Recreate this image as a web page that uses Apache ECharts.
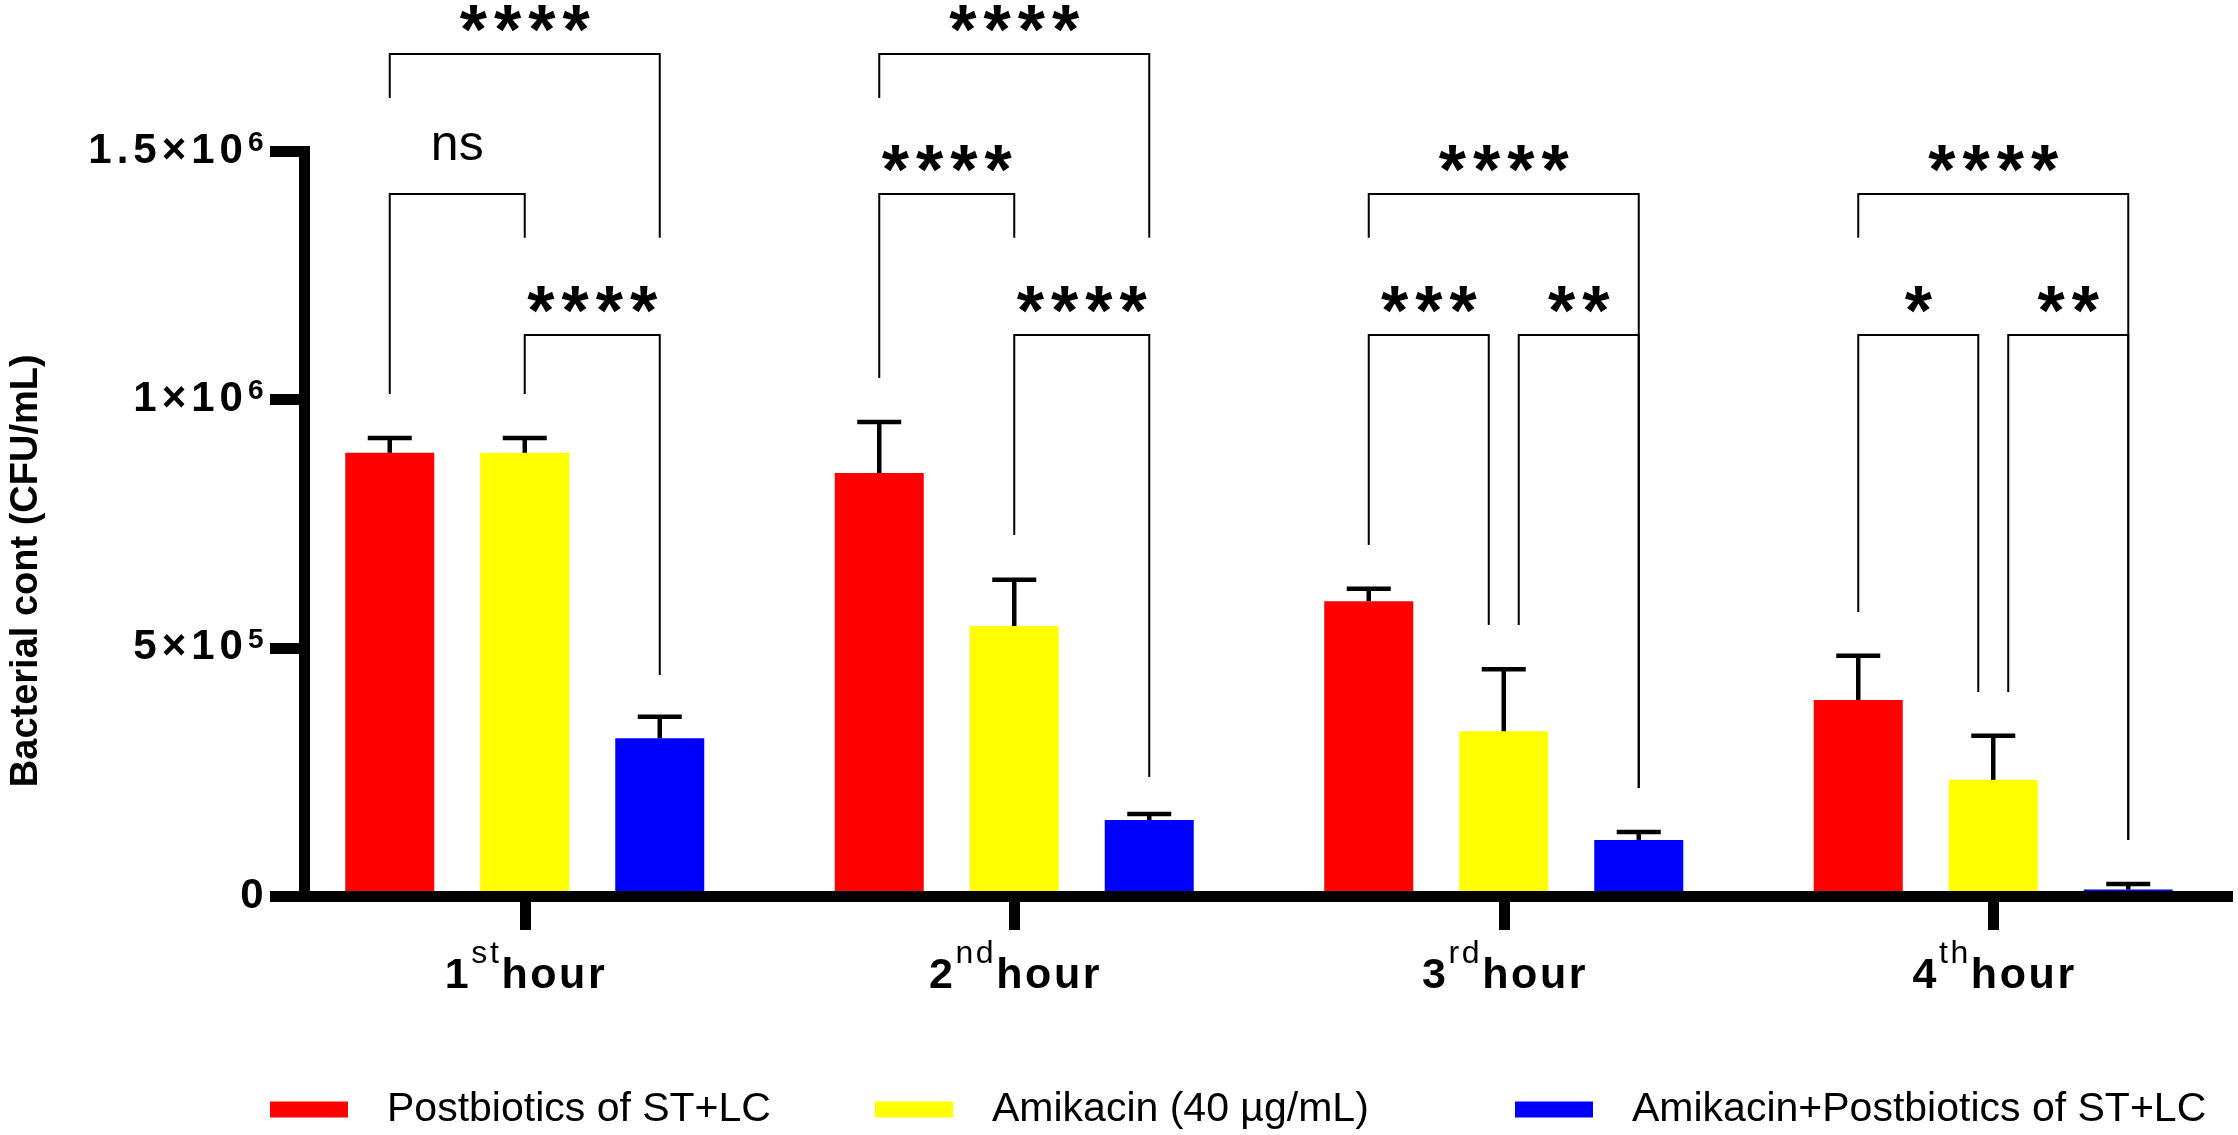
<!DOCTYPE html>
<html><head><meta charset="utf-8">
<script src="https://cdn.jsdelivr.net/npm/echarts@6/dist/echarts.min.js"></script>
<style>html,body{margin:0;padding:0;background:#fff}#c{width:2238px;height:1135px}</style>
</head><body><div id="c"></div>
<script>
// ---------- data ----------
const categories = ['1st hour', '2nd hour', '3rd hour', '4th hour'];
const seriesNames = ['Postbiotics of ST+LC', 'Amikacin (40 µg/mL)', 'Amikacin+Postbiotics of ST+LC'];
const seriesColors = ['#ff0000', '#ffff00', '#0000ff'];
const postbiotics    = [893000, 852000, 594000, 395000];
const amikacin       = [893000, 544000, 332000, 234000];
const combination    = [318000, 153000, 113000, 13000];
const postbioticsErr = [30000, 103000, 25000, 89000];
const amikacinErr    = [30000, 93000, 125000, 89000];
const combinationErr = [43000, 12000, 16000, 11000];

const yTicks        = [0, 500000, 1000000, 1500000];
const yTickMantissa = ['0', '5', '1', '1.5'];
const yTickExponent = ['', '5', '6', '6'];

// significance brackets (group, from bar, to bar, bracket level, left leg end, right leg end, label)
const bracketGroup    = [0, 0, 0, 1, 1, 1, 2, 2, 2, 3, 3, 3];
const bracketFrom     = [0, 0, 1, 0, 0, 1, 0, 0, 1.111, 0, 0, 1.111];
const bracketTo       = [2, 1, 2, 2, 1, 2, 2, 0.889, 2, 2, 0.889, 2];
const bracketLevel    = [1696500, 1414500, 1130400, 1696500, 1414500, 1130400, 1414500, 1130400, 1130400, 1414500, 1130400, 1130400];
const bracketLeftEnd  = [1608000, 1011500, 1011500, 1608000, 1043700, 727400, 1326000, 707200, 546000, 1326000, 572200, 411000];
const bracketRightEnd = [1326000, 1326000, 445300, 1326000, 1326000, 239800, 217600, 546000, 217600, 112800, 411000, 112800];
const bracketLabels   = ['****', 'ns', '****', '****', '****', '****', '****', '***', '**', '****', '*', '**'];

// ---------- styling constants ----------
const FONT = '"Liberation Sans", Arial, sans-serif';
const BAR_W = 89, BAR_GAP = 46;
const SLOT = BAR_W + BAR_GAP;
const GRID_TOP = 151.5, GRID_BOTTOM = 239;

// spread characters into individual rich tokens (letter tracking)
function track(str, tok) {
  return str.split('').map(ch => '{' + tok + '|' + ch + '}').join('');
}

const seriesValues = [postbiotics, amikacin, combination];
const seriesErrs = [postbioticsErr, amikacinErr, combinationErr];

const errData = [];
seriesValues.forEach((vals, s) => vals.forEach((v, i) => errData.push([i, s, v, seriesErrs[s][i]])));
const bracketData = bracketGroup.map((g, k) => [g, bracketFrom[k], bracketTo[k], bracketLevel[k], bracketLeftEnd[k], bracketRightEnd[k], k]);

const chart = echarts.init(document.getElementById('c'), null, { renderer: 'canvas' });

const option = {
  animation: false,
  backgroundColor: '#ffffff',
  grid: [
    { left: 280, width: 1969, top: GRID_TOP, bottom: GRID_BOTTOM },
    { left: 303, right: 10.5, top: GRID_TOP, bottom: GRID_BOTTOM }
  ],
  xAxis: [
    {
      type: 'category', gridIndex: 0, data: categories,
      axisLine: { show: false },
      axisTick: { show: true, alignWithLabel: true, length: 34, lineStyle: { color: '#000', width: 11 } },
      axisLabel: {
        margin: 42,
        formatter: function (v) {
          const m = v.match(/^(\d)(st|nd|rd|th)\s*(hour)$/);
          return track(m[1], 'n') + track(m[2], 's') + track(m[3], 'n');
        },
        rich: {
          n: { fontSize: 43, fontWeight: 'bold', fontFamily: FONT, color: '#000', lineHeight: 60, verticalAlign: 'bottom', padding: [0, 1.3, 0, 1.3] },
          s: { fontSize: 32, fontWeight: 'normal', fontFamily: FONT, color: '#000', lineHeight: 32, verticalAlign: 'top', padding: [0, 1.3, 0, 1.3] }
        }
      },
      splitLine: { show: false }
    },
    {
      type: 'value', gridIndex: 1, min: 0, max: 1, z: 10,
      axisLine: { show: true, onZero: false, lineStyle: { color: '#000', width: 11, cap: 'square' } },
      axisTick: { show: false }, axisLabel: { show: false }, splitLine: { show: false }
    }
  ],
  yAxis: [
    { type: 'value', gridIndex: 0, min: 0, max: 1500000, interval: 500000, show: false, splitLine: { show: false } },
    {
      type: 'value', gridIndex: 1, min: 0, max: 1500000, interval: 500000, z: 10,
      name: 'Bacterial cont (CFU/mL)', nameLocation: 'middle', nameGap: 258,
      nameTextStyle: { fontSize: 38, fontWeight: 'bold', fontFamily: FONT, color: '#000', padding: [0, 94, 0, 0] },
      axisLine: { show: true, onZero: false, lineStyle: { color: '#000', width: 11, cap: 'square' } },
      axisTick: { show: true, length: 34, lineStyle: { color: '#000', width: 11 } },
      splitLine: { show: false },
      axisLabel: {
        margin: 38,
        formatter: function (v) {
          const i = yTicks.indexOf(v);
          if (i < 0) return '';
          if (!yTickExponent[i]) return track(yTickMantissa[i], 'b');
          return track(yTickMantissa[i] + '×10', 'b') + track(yTickExponent[i], 's');
        },
        rich: {
          b: { fontSize: 42, fontWeight: 'bold', fontFamily: FONT, color: '#000', lineHeight: 44, padding: [0, 2.5, 0, 2.5] },
          s: { fontSize: 28, fontWeight: 'bold', fontFamily: FONT, color: '#000', lineHeight: 32, verticalAlign: 'top', padding: [0, 2.5, 0, 2.5] }
        }
      }
    }
  ],
  legend: seriesNames.map((n, i) => ({
    data: [n], left: [265, 870, 1510][i], top: 1084,
    itemWidth: 78, itemHeight: 16, icon: 'rect', selectedMode: false,
    textStyle: { fontSize: 41, fontFamily: FONT, color: '#000', padding: [0, 0, 0, 34] }
  })),
  series: [
    ...seriesNames.map((n, s) => ({
      name: n, type: 'bar', xAxisIndex: 0, yAxisIndex: 0,
      barWidth: BAR_W, barGap: (BAR_GAP / BAR_W * 100) + '%',
      itemStyle: { color: seriesColors[s] },
      data: seriesValues[s], z: 2
    })),
    {
      type: 'custom', xAxisIndex: 0, yAxisIndex: 0, clip: false, z: 3,
      encode: { x: 0, y: 2 },
      data: errData,
      renderItem: function (params, api) {
        const i = api.value(0), s = api.value(1), m = api.value(2), e = api.value(3);
        const base = api.coord([i, m]);
        const top = api.coord([i, m + e]);
        const x = base[0] + (s - 1) * SLOT;
        return {
          type: 'group', children: [
            { type: 'line', shape: { x1: x, y1: base[1], x2: x, y2: top[1] }, style: { stroke: '#000', lineWidth: 4.5 } },
            { type: 'line', shape: { x1: x - 22, y1: top[1], x2: x + 22, y2: top[1] }, style: { stroke: '#000', lineWidth: 4.5 } }
          ]
        };
      }
    },
    {
      type: 'custom', xAxisIndex: 0, yAxisIndex: 0, clip: false, z: 4,
      encode: { x: 0, y: 3 },
      data: bracketData,
      renderItem: function (params, api) {
        const g = api.value(0), f = api.value(1), t = api.value(2), lv = api.value(3);
        const le = api.value(4), re = api.value(5), k = api.value(6);
        const c = api.coord([g, lv]);
        const xl = c[0] + (f - 1) * SLOT, xr = c[0] + (t - 1) * SLOT;
        const yl = api.coord([g, le])[1], yr = api.coord([g, re])[1];
        const label = bracketLabels[k];
        const isNs = label === 'ns';
        const textStyle = isNs
          ? { text: label, fontFamily: FONT, fontSize: 50, fontWeight: 'normal' }
          : { text: track(label, 'a'), rich: { a: { fontFamily: FONT, fontSize: 70, fontWeight: 'bold', fill: '#000', padding: [0, 3.5, 0, 3.5] } } };
        return {
          type: 'group', children: [
            { type: 'polyline', shape: { points: [[xl, yl], [xl, c[1]], [xr, c[1]], [xr, yr]] }, style: { stroke: '#000', lineWidth: 2, fill: null } },
            {
              type: 'text', x: (xl + xr) / 2, y: c[1] - (isNs ? 48 : 19),
              style: Object.assign({ fill: '#000', align: 'center', verticalAlign: 'middle' }, textStyle)
            }
          ]
        };
      }
    }
  ]
};
chart.setOption(option);
</script>
</body></html>
